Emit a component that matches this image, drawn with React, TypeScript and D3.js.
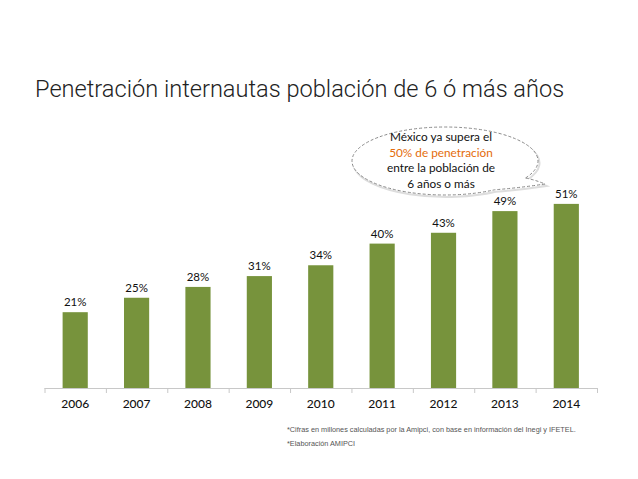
import { useEffect, useRef } from "react";
import * as d3 from "d3";

const years = ["2006", "2007", "2008", "2009", "2010", "2011", "2012", "2013", "2014"];
const penetration = [21, 25, 28, 31, 34, 40, 43, 49, 51];
const calloutLines = ["México ya supera el", "50% de penetración", "entre la población de", "6 años o más"];
const notes = [
	"*Cifras en millones calculadas por la Amipci, con base en información del Inegi y IFETEL.",
	"*Elaboración AMIPCI",
];

export default function App() {
	const ref = useRef<SVGSVGElement>(null);

	useEffect(() => {
		document.body.style.margin = "0";
		const svg = d3.select(ref.current);
		svg.selectAll("*").remove();

		const W = 638, H = 479;
		svg.append("rect").attr("width", W).attr("height", H).attr("fill", "#fff");

		// Title
		svg.append("text")
			.attr("x", 35)
			.attr("y", 97)
			.attr("font-family", "Roboto, 'Liberation Sans', sans-serif")
			.attr("font-weight", 300)
			.attr("font-size", "23.6px")
			.attr("fill", "#222")
			.text("Penetración internautas población de 6 ó más años");

		// Scales
		const x = d3.scaleBand()
			.domain(years)
			.range([44.5, 597])
			.paddingInner(0.59)
			.paddingOuter(0.295);

		const y = d3.scaleLinear()
			.domain([0, 100])
			.range([388, 27]);

		const g = svg.append("g");

		// Bars
		g.selectAll(".bar")
			.data(penetration)
			.enter()
			.append("rect")
			.attr("x", (_, i) => x(years[i])!)
			.attr("y", d => y(d))
			.attr("width", x.bandwidth())
			.attr("height", d => y(0) - y(d))
			.attr("fill", "#77933c");

		// Value labels
		g.selectAll(".val")
			.data(penetration)
			.enter()
			.append("text")
			.attr("x", (_, i) => x(years[i])! + x.bandwidth() / 2)
			.attr("y", d => y(d) - 6)
			.attr("text-anchor", "middle")
			.attr("font-family", "Lato, 'Open Sans', sans-serif")
			.attr("font-size", "11.5px")
			.attr("fill", "#111")
			.text(d => `${d}%`);

		// Axis line and category ticks
		const [r0, r1] = x.range();
		g.append("line")
			.attr("x1", r0).attr("x2", r1)
			.attr("y1", y(0) + 0.5).attr("y2", y(0) + 0.5)
			.attr("stroke", "#c8c8c8");

		const step = (r1 - r0) / years.length;
		g.selectAll(".tick")
			.data(d3.range(years.length + 1))
			.enter()
			.append("line")
			.attr("x1", i => r0 + i * step + 0.5)
			.attr("x2", i => r0 + i * step + 0.5)
			.attr("y1", y(0))
			.attr("y2", y(0) + 5)
			.attr("stroke", "#c8c8c8");

		g.selectAll(".year")
			.data(years)
			.enter()
			.append("text")
			.attr("x", d => x(d)! + x.bandwidth() / 2)
			.attr("y", 408)
			.attr("text-anchor", "middle")
			.attr("font-family", "Lato, 'Open Sans', sans-serif")
			.attr("font-size", "12px")
			.attr("font-weight", 500)
			.attr("fill", "#111")
			.text(d => d);

		// Callout bubble
		const cx = 445, cy = 161, rx = 93, ry = 34;
		const a1 = Math.PI / 6, a2 = 58 * Math.PI / 180;
		const p1 = [cx + rx * Math.cos(a1), cy + ry * Math.sin(a1)];
		const p2 = [cx + rx * Math.cos(a2), cy + ry * Math.sin(a2)];
		const tip = [545, 184];
		const bubble = `M${p1[0]},${p1[1]} A${rx},${ry} 0 1 0 ${p2[0]},${p2[1]} Q${p2[0] + 25},${p2[1] - 2} ${tip[0]},${tip[1]} Q${p1[0] + 10},${p1[1] + 2} ${p1[0]},${p1[1]} Z`;

		svg.append("path")
			.attr("d", bubble)
			.attr("transform", "translate(1.5,2)")
			.attr("fill", "none")
			.attr("stroke", "#ddd")
			.attr("stroke-width", 2);

		svg.append("path")
			.attr("d", bubble)
			.attr("fill", "#fff")
			.attr("stroke", "#8a8a8a")
			.attr("stroke-width", 1)
			.attr("stroke-dasharray", "3,2");

		svg.selectAll(".callout")
			.data(calloutLines)
			.enter()
			.append("text")
			.attr("x", 441)
			.attr("y", (_, i) => 141 + i * 15.5)
			.attr("text-anchor", "middle")
			.attr("font-family", "Lato, 'Open Sans', sans-serif")
			.attr("font-size", "11.8px")
			.attr("fill", (_, i) => (i === 1 ? "#e46c0a" : "#111"))
			.text(d => d);

		// Footnotes
		svg.selectAll(".note")
			.data(notes)
			.enter()
			.append("text")
			.attr("x", 287)
			.attr("y", (_, i) => 432 + i * 14)
			.attr("font-family", "'Liberation Sans', Arial, sans-serif")
			.attr("font-size", "7.3px")
			.attr("fill", "#555")
			.text(d => d);
	}, []);

	return <svg ref={ref} width={638} height={479} style={{ display: "block" }} />;
}
